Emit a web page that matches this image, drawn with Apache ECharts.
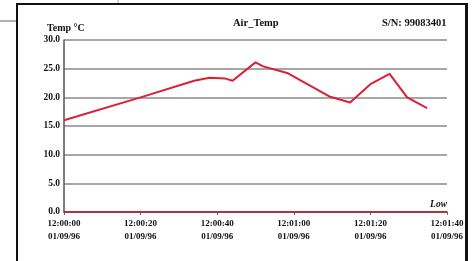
<!DOCTYPE html>
<html><head><meta charset="utf-8">
<script src="https://cdn.jsdelivr.net/npm/echarts@6/dist/echarts.min.js"></script>
<style>html,body{margin:0;padding:0;background:#fff}#c{width:472px;height:261px}</style>
</head><body><div id="c"></div>
<script>
const seconds = [0, 20, 34, 38, 42, 44, 50, 52, 58.5, 69.5, 74.7, 80, 85, 89.6, 94.8];
const temps   = [16.0, 20.0, 22.9, 23.4, 23.3, 22.9, 26.1, 25.4, 24.2, 20.1, 19.1, 22.3, 24.1, 20.0, 18.1];
const timeLabels = ['12:00:00', '12:00:20', '12:00:40', '12:01:00', '12:01:20', '12:01:40'];
const dateLabels = ['01/09/96', '01/09/96', '01/09/96', '01/09/96', '01/09/96', '01/09/96'];
const yTicks = [0, 5, 10, 15, 20, 25, 30];
const lowLimit = 0;

const font = 'Liberation Serif';
const chart = echarts.init(document.getElementById('c'), null, {renderer: 'canvas'});
chart.setOption({
  animation: false,
  backgroundColor: '#fff',
  grid: {left: 64, right: 25, top: 40, bottom: 49},
  graphic: [
    {type: 'rect', shape: {x: 17, y: 4, width: 449, height: 270}, style: {fill: 'none', stroke: '#111', lineWidth: 2}},
    {type: 'line', shape: {x1: 466.5, y1: 3, x2: 466.5, y2: 261}, style: {stroke: '#111', lineWidth: 3}},
    {type: 'line', shape: {x1: 0, y1: 21, x2: 16, y2: 21}, style: {stroke: '#999', lineWidth: 1.5}},
    {type: 'line', shape: {x1: 118, y1: 0, x2: 118, y2: 3}, style: {stroke: '#aaa', lineWidth: 1}},
    {type: 'text', left: 47, top: 23, style: {text: 'Temp °C', font: 'bold 10px "Liberation Serif"', fill: '#111'}},
    {type: 'text', left: 233, top: 18, style: {text: 'Air_Temp', font: 'bold 10.5px "Liberation Serif"', fill: '#111'}},
    {type: 'text', left: 382, top: 18, style: {text: 'S/N: 99083401', font: 'bold 10.5px "Liberation Serif"', fill: '#111'}}
  ],
  xAxis: {
    type: 'value', min: 0, max: 100, interval: 20,
    axisLine: {lineStyle: {color: '#b02838', width: 1.5}},
    axisTick: {show: true, length: 3, lineStyle: {color: '#666'}},
    splitLine: {show: false},
    axisLabel: {
      fontFamily: font, fontWeight: 'bold', fontSize: 9, color: '#111', lineHeight: 13, margin: 5,
      formatter: v => { const i = Math.round(v / 20); return timeLabels[i] + '\n' + dateLabels[i]; }
    }
  },
  yAxis: {
    type: 'value', min: yTicks[0], max: yTicks[yTicks.length - 1], interval: 5,
    axisLine: {show: true, lineStyle: {color: '#555', width: 1.5}},
    axisTick: {show: false},
    splitLine: {lineStyle: {color: '#8a8a8a', width: 1.5}},
    axisLabel: {fontFamily: font, fontWeight: 'bold', fontSize: 9.5, color: '#111', margin: 4,
      formatter: v => v.toFixed(1)}
  },
  series: [{
    type: 'line', data: seconds.map((s, i) => [s, temps[i]]),
    symbol: 'none', lineStyle: {color: '#dc1f34', width: 2},
    markLine: {
      silent: true, symbol: 'none',
      lineStyle: {color: '#b02838', width: 1.5, type: 'solid'},
      label: {position: 'insideEndTop', formatter: 'Low', fontFamily: font, fontStyle: 'italic', fontWeight: 'bold', fontSize: 9.5, color: '#111', distance: [0, 2]},
      data: [{yAxis: lowLimit}]
    }
  }]
});
</script></body></html>
